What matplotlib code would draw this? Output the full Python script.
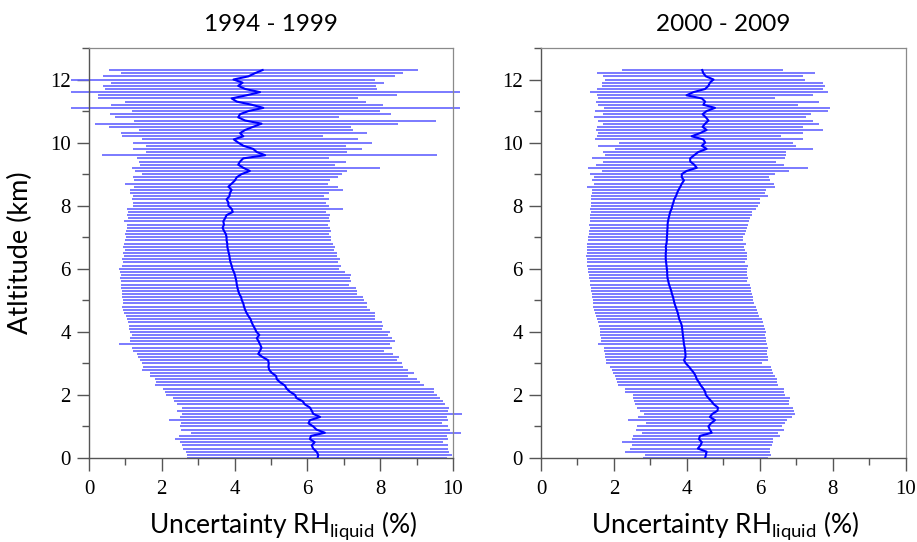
import numpy as np
import matplotlib
matplotlib.use("Agg")
import matplotlib.pyplot as plt
from matplotlib.ticker import MultipleLocator

# altitude levels, 0.0 .. 12.3 km every 0.1 km
altitude = np.arange(124) / 10.0

# 1994 - 1999 : mean uncertainty and left / right ends of each bar
mean_1994 = [
    6.28, 6.30, 6.25, 6.16, 6.12, 6.20, 6.07, 6.10, 6.48, 6.25,
    6.16, 6.03, 6.07, 6.35, 6.16, 6.12, 6.07, 5.93, 5.87, 5.70,
    5.66, 5.52, 5.43, 5.38, 5.25, 5.16, 5.14, 5.02, 4.95, 4.93,
    4.94, 4.92, 4.77, 4.65, 4.70, 4.74, 4.70, 4.66, 4.61, 4.68,
    4.60, 4.56, 4.51, 4.47, 4.44, 4.38, 4.33, 4.29, 4.26, 4.24,
    4.20, 4.18, 4.13, 4.10, 4.08, 4.06, 4.05, 4.03, 4.01, 3.98,
    3.94, 3.92, 3.89, 3.87, 3.86, 3.84, 3.82, 3.80, 3.80, 3.78,
    3.78, 3.76, 3.71, 3.67, 3.71, 3.69, 3.74, 3.78, 3.95, 3.92,
    3.83, 3.83, 3.78, 3.86, 3.87, 3.92, 3.83, 3.92, 4.01, 4.06,
    4.19, 4.42, 4.24, 4.10, 4.15, 4.24, 4.84, 4.61, 4.51, 4.24,
    4.10, 3.98, 4.24, 4.15, 4.29, 4.51, 4.74, 4.29, 4.10, 4.15,
    4.38, 4.79, 4.47, 4.06, 3.92, 4.33, 4.70, 4.29, 4.10, 4.22,
    3.97, 4.38, 4.56, 4.77,
]
low_1994 = [
    2.70, 2.68, 2.66, 2.59, 2.55, 2.50, 2.36, 2.48, 2.80, 2.52,
    2.50, 2.53, 2.21, 2.50, 2.55, 2.41, 2.55, 2.41, 2.33, 2.32,
    2.12, 2.09, 2.04, 1.82, 1.84, 1.81, 1.69, 1.68, 1.47, 1.49,
    1.45, 1.40, 1.36, 1.31, 1.20, 1.17, 0.83, 1.13, 1.14, 1.17,
    1.14, 1.11, 1.10, 1.08, 1.04, 1.02, 0.96, 0.94, 0.92, 0.94,
    0.94, 0.90, 0.92, 0.90, 0.87, 0.88, 0.87, 0.85, 0.87, 0.85,
    0.83, 0.90, 0.94, 0.92, 0.96, 0.94, 0.99, 0.94, 0.96, 0.99,
    1.02, 0.99, 1.02, 1.04, 1.05, 0.96, 1.08, 1.04, 1.08, 1.05,
    1.20, 1.22, 1.17, 1.20, 1.13, 1.13, 1.24, 0.99, 1.24, 1.22,
    1.45, 1.26, 1.17, 1.40, 1.38, 1.33, 0.35, 1.57, 1.22, 1.58,
    1.22, 1.47, 0.92, 0.87, 1.38, 0.56, 0.16, 1.24, 0.71, 0.58,
    1.17, -0.50, 0.60, 0.99, 0.26, 0.26, -0.50, 0.44, 0.38, 0.60,
    -0.50, 0.39, 0.87, 0.56,
]
high_1994 = [
    9.83, 9.96, 9.90, 9.87, 9.87, 9.73, 9.87, 9.83, 10.22, 9.92,
    9.87, 9.69, 9.87, 9.83, 10.24, 9.87, 9.90, 9.78, 9.73, 9.64,
    9.55, 9.49, 9.48, 9.19, 9.09, 9.00, 8.77, 8.94, 8.77, 8.62,
    8.59, 8.45, 8.52, 8.36, 8.10, 8.32, 8.27, 8.41, 8.32, 8.22,
    8.27, 8.04, 8.09, 8.04, 7.86, 7.87, 7.86, 7.72, 7.65, 7.63,
    7.56, 7.54, 7.37, 7.37, 7.33, 7.15, 7.19, 7.17, 7.19, 7.03,
    6.88, 6.92, 6.85, 6.90, 6.80, 6.82, 6.74, 6.76, 6.70, 6.64,
    6.66, 6.60, 6.64, 6.62, 6.56, 6.62, 6.60, 6.62, 6.52, 6.99,
    6.60, 6.52, 6.60, 6.45, 6.60, 6.99, 6.85, 6.58, 6.62, 6.85,
    6.95, 7.10, 7.99, 6.75, 7.05, 6.60, 9.57, 7.10, 7.50, 7.05,
    7.77, 7.40, 6.44, 7.65, 7.24, 7.19, 8.48, 9.53, 6.88, 8.30,
    7.99, 10.20, 8.09, 7.60, 7.40, 8.47, 10.20, 7.90, 7.88, 8.10,
    7.86, 8.42, 8.62, 9.03,
]

# 2000 - 2009
mean_2000 = [
    4.50, 4.52, 4.54, 4.30, 4.37, 4.41, 4.33, 4.36, 4.68, 4.63,
    4.59, 4.66, 4.77, 4.63, 4.70, 4.84, 4.85, 4.74, 4.67, 4.59,
    4.52, 4.50, 4.45, 4.38, 4.33, 4.27, 4.24, 4.19, 4.12, 4.05,
    3.97, 3.92, 3.96, 3.96, 3.95, 3.94, 3.92, 3.91, 3.90, 3.89,
    3.88, 3.87, 3.86, 3.83, 3.79, 3.77, 3.75, 3.72, 3.69, 3.66,
    3.64, 3.62, 3.59, 3.57, 3.54, 3.51, 3.49, 3.47, 3.46, 3.46,
    3.45, 3.44, 3.43, 3.42, 3.42, 3.42, 3.43, 3.42, 3.44, 3.45,
    3.45, 3.46, 3.46, 3.47, 3.47, 3.48, 3.50, 3.52, 3.54, 3.58,
    3.60, 3.63, 3.65, 3.70, 3.73, 3.77, 3.82, 3.86, 3.92, 3.86,
    3.86, 3.99, 4.27, 4.20, 4.09, 4.09, 4.20, 4.31, 4.54, 4.41,
    4.50, 4.45, 4.13, 4.36, 4.54, 4.43, 4.50, 4.59, 4.52, 4.43,
    4.54, 4.77, 4.45, 4.50, 4.41, 3.99, 4.18, 4.50, 4.59, 4.63,
    4.73, 4.52, 4.45, 4.42,
]
low_2000 = [
    2.79, 2.85, 2.30, 2.44, 2.49, 2.21, 2.49, 2.51, 2.76, 2.61,
    2.62, 2.88, 2.39, 2.67, 2.82, 2.71, 2.62, 2.58, 2.55, 2.53,
    2.53, 2.30, 2.30, 2.12, 2.09, 2.06, 2.03, 1.97, 1.94, 1.89,
    1.78, 1.78, 1.75, 1.75, 1.73, 1.73, 1.57, 1.64, 1.64, 1.62,
    1.62, 1.62, 1.59, 1.55, 1.53, 1.51, 1.48, 1.45, 1.43, 1.42,
    1.42, 1.39, 1.39, 1.37, 1.36, 1.34, 1.33, 1.32, 1.31, 1.30,
    1.30, 1.27, 1.27, 1.25, 1.23, 1.25, 1.25, 1.27, 1.27, 1.30,
    1.30, 1.31, 1.32, 1.33, 1.32, 1.34, 1.34, 1.35, 1.36, 1.35,
    1.36, 1.37, 1.36, 1.38, 1.39, 1.39, 1.25, 1.44, 1.39, 1.46,
    1.34, 1.66, 1.30, 1.51, 1.71, 1.39, 1.75, 1.71, 2.03, 1.57,
    2.15, 1.48, 1.53, 1.57, 1.51, 1.53, 1.71, 1.57, 1.44, 1.69,
    1.48, 1.73, 1.57, 1.50, 1.57, 1.53, 1.34, 1.53, 1.66, 1.66,
    1.75, 1.71, 1.53, 2.21,
]
high_2000 = [
    6.21, 6.30, 6.28, 6.28, 6.32, 6.37, 6.37, 6.54, 6.51, 6.66,
    6.60, 6.69, 6.75, 6.87, 6.97, 6.95, 6.92, 6.81, 6.81, 6.83,
    6.69, 6.66, 6.66, 6.51, 6.46, 6.46, 6.42, 6.35, 6.32, 6.30,
    6.05, 6.21, 6.22, 6.19, 6.19, 6.21, 6.19, 6.17, 6.16, 6.14,
    6.16, 6.14, 6.11, 6.08, 6.05, 5.99, 5.96, 5.91, 5.90, 5.84,
    5.82, 5.80, 5.78, 5.75, 5.75, 5.73, 5.64, 5.68, 5.66, 5.64,
    5.66, 5.68, 5.59, 5.64, 5.64, 5.66, 5.60, 5.57, 5.62, 5.55,
    5.55, 5.59, 5.62, 5.64, 5.68, 5.71, 5.73, 5.78, 5.78, 5.90,
    5.94, 6.01, 6.01, 6.21, 6.14, 6.17, 6.42, 6.40, 6.28, 6.26,
    6.42, 6.81, 7.33, 6.67, 6.44, 6.69, 6.72, 6.72, 7.47, 6.98,
    6.92, 7.19, 6.57, 7.19, 7.74, 7.19, 7.61, 7.47, 7.27, 7.39,
    7.88, 7.91, 7.04, 7.63, 6.42, 7.47, 7.86, 7.74, 7.79, 7.72,
    7.24, 7.19, 7.51, 6.63,
]

titles = ["1994 - 1999", "2000 - 2009"]
x_ticks = [0, 2, 4, 6, 8, 10]
y_ticks = [0, 2, 4, 6, 8, 10, 12]

label_font = "Lato"
tick_font = "Liberation Serif"

fig = plt.figure(figsize=(9.17, 5.42), dpi=100)
ax_left = fig.add_axes([0.097, 0.155, 0.397, 0.7565])
ax_right = fig.add_axes([0.590, 0.155, 0.3977, 0.7565])

panels = [
    (ax_left, mean_1994, low_1994, high_1994, 0.533),
    (ax_right, mean_2000, low_2000, high_2000, 0.506),
]

for i, (ax, mean, low, high, xlab_pos) in enumerate(panels):
    ax.hlines(altitude, low, high, colors="#6464ff", lw=1.2, clip_on=False, zorder=2)
    ax.plot(mean, altitude, color="#0000ff", lw=1.5, zorder=3)

    ax.set_xlim(0, 10)
    ax.set_ylim(0, 13)
    ax.set_xticks(x_ticks)
    ax.set_yticks(y_ticks)
    ax.xaxis.set_minor_locator(MultipleLocator(1))
    ax.yaxis.set_minor_locator(MultipleLocator(1))
    ax.tick_params(which="major", direction="out", length=9, width=1.0, color="#555555",
                   labelsize=15, top=False, right=False)
    ax.tick_params(which="minor", direction="out", length=5, width=1.0, color="#555555",
                   top=False, right=False)
    ax.tick_params(axis="x", which="major", pad=7)
    ax.tick_params(axis="y", which="major", pad=4)
    for lab in ax.get_xticklabels() + ax.get_yticklabels():
        lab.set_fontfamily(tick_font)

    for side in ["left", "bottom"]:
        ax.spines[side].set_color("#555555")
        ax.spines[side].set_linewidth(1.0)
    for side in ["top", "right"]:
        ax.spines[side].set_color("#8a8a8a")
        ax.spines[side].set_linewidth(0.9)

    ax.set_title(titles[i], fontfamily=label_font, fontsize=17.5, pad=12)
    ax.set_xlabel(r"Uncertainty RH$_{\mathregular{liquid}}$ (%)", fontfamily=label_font, fontsize=19)
    ax.xaxis.set_label_coords(xlab_pos, -0.125)

ax_left.set_ylabel("Atltitude (km)", fontfamily=label_font, fontsize=19.5)
ax_left.yaxis.set_label_coords(-0.155, 0.5)

fig.savefig("out.png", dpi=100)
